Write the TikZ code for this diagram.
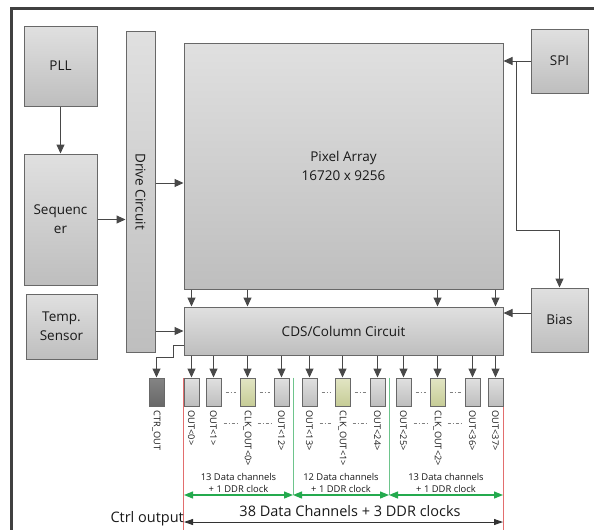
\documentclass[tikz,border=0pt]{standalone}
\usepackage{fontspec}
\setmainfont{Open Sans}
\usetikzlibrary{positioning,arrows.meta,calc}

\definecolor{boxtop}{RGB}{224,224,224}
\definecolor{boxbot}{RGB}{190,190,190}
\definecolor{edge}{RGB}{104,104,104}
\definecolor{clktop}{RGB}{226,229,196}
\definecolor{clkbot}{RGB}{198,204,150}
\definecolor{ctrtop}{RGB}{132,132,132}
\definecolor{ctrbot}{RGB}{104,104,104}
\definecolor{arrgray}{RGB}{72,72,72}
\definecolor{grn}{RGB}{36,170,78}
\definecolor{grnline}{RGB}{110,196,140}
\definecolor{redline}{RGB}{226,110,110}

\begin{document}
\begin{tikzpicture}[
  x=1pt,y=-1pt,
  font=\fontsize{13.5}{19}\selectfont,
  text=black!90,
  blk/.style={rectangle,draw=edge,line width=1pt,top color=boxtop,bottom color=boxbot,
              align=center,inner sep=2pt},
  obox/.style={blk,minimum width=15pt,minimum height=28pt},
  cbox/.style={obox,top color=clktop,bottom color=clkbot},
  dbox/.style={obox,top color=ctrtop,bottom color=ctrbot},
  lbl/.style={font=\fontsize{9.2}{10}\selectfont,rotate=-90,anchor=west,inner sep=0pt},
  grp/.style={font=\fontsize{9.4}{12}\selectfont,align=center,inner sep=1pt},
  arr/.style={-{Triangle[length=9pt,width=8pt]},line width=1pt,draw=arrgray},
  dots/.style={draw=gray,line width=0.7pt,dash pattern=on 3pt off 2pt on 1pt off 2pt},
  garr/.style={{Triangle[length=9pt,width=7pt]}-{Triangle[length=9pt,width=7pt]},
               line width=1.2pt,draw=grn},
  barr/.style={{Triangle[length=9pt,width=6pt]}-{Triangle[length=9pt,width=6pt]},
               line width=0.9pt,draw=black!80},
]
\useasboundingbox (0,0) rectangle (594,530);

% ---------- frame ----------
\draw[line width=3pt,draw=black!75] (594,8) -- (11,8) -- (11,530);

% ---------- main blocks ----------
\node[blk,minimum width=73pt,minimum height=80pt] (pll) at (60.5,66) {PLL};
\node[blk,minimum width=73pt,minimum height=131pt] (seq) at (60.5,219.5) {Sequenc\\er};
\node[blk,minimum width=71pt,minimum height=65pt] (temp) at (61.5,326.5) {Temp.\\Sensor};
\node[blk,minimum width=29pt,minimum height=321pt] (drive) at (140.5,191.5) {\rotatebox{-90}{Drive Circuit}};
\node[blk,minimum width=319pt,minimum height=246pt] (pixel) at (343.5,166) {Pixel Array\\16720 x 9256};
\node[blk,minimum width=319pt,minimum height=48pt] (cds) at (343.5,331) {CDS/Column Circuit};
\node[blk,minimum width=57pt,minimum height=64pt] (spi) at (559.5,61) {SPI};
\node[blk,minimum width=57pt,minimum height=64pt] (bias) at (559.5,320) {Bias};

\draw[arr] (pll) -- (seq);
\draw[arr] (seq.east) -- (seq.east -| drive.west);
\draw[arr] ([yshift=-17pt]pixel.west -| drive.east) -- ([yshift=-17pt]pixel.west);
\draw[arr] (cds.west -| drive.east) -- (cds.west);
\draw[arr] (spi.west) -- (spi.west -| pixel.east);
\coordinate (tap) at (516,61);
\draw[arr] (tap) -- ++(0,169) -| (bias.north);
\draw[arr] ([yshift=7pt]bias.west) -- ([yshift=7pt]bias.west -| cds.east);

% ---------- output pads ----------
\coordinate (bot) at (0,530);
\draw[draw=redline,line width=1pt] (183.5,378) -- (183.5,530);
\draw[draw=redline,line width=1pt] (503.5,378) -- (503.5,530);

\node[dbox] (ctr) at (156.5,392) {};
\node[lbl] at ([yshift=-4pt]ctr.south) {CTR\_OUT};
\foreach \n/\x/\s/\t in {o0/191.5/obox/OUT<0>, o1/213.5/obox/OUT<1>, c0/247.5/cbox/CLK\_OUT<0>,
    o12/281.5/obox/OUT<12>, o13/309.5/obox/OUT<13>, c1/342.5/cbox/CLK\_OUT<1>,
    o24/377.5/obox/OUT<24>, o25/403.5/obox/OUT<25>, c2/437.5/cbox/CLK\_OUT<2>,
    o36/472.5/obox/OUT<36>, o37/495.5/obox/OUT<37>} {
  \node[\s] (\n) at (\x,392) {};
  \node[lbl] at ([yshift=-4pt]\n.south) {\t};
  \draw[arr] (cds.south -| \n) -- (\n);
}

% pixel array -> column circuit
\foreach \n in {o0,c0,c2,o37}
  \draw[arr] (pixel.south -| \n) -- (cds.north -| \n);

% skipped channels
\foreach \a/\b in {o1/c0, c0/o12, o13/c1, c1/o24, o25/c2, c2/o36} {
  \draw[dots] ([xshift=4pt]\a.east) -- ([xshift=-4pt]\b.west);
  \draw[dots] ([xshift=2pt,yshift=-17pt]\a.south east) -- ([xshift=-2pt,yshift=-17pt]\b.south west);
}

% control output
\draw[arr] ([yshift=-14pt]cds.west) -- ++(-10,0) -- ++(0,12) -| (ctr.north);

% ---------- channel groups ----------
\coordinate (g0) at (184,495);
\coordinate (g1) at (293,495);
\coordinate (g2) at (389,495);
\coordinate (g3) at (503,495);
\draw[draw=grnline,line width=1pt] (g1 |- o12.north) -- (g1);
\draw[draw=grnline,line width=1pt] (g2 |- o24.north) -- (g2);
\draw[garr] (g0) -- (g1);
\draw[garr] (g1) -- (g2);
\draw[garr] (g2) -- (g3);
\node[grp,above=1pt of $(g0)!0.5!(g1)$] (t0) {13 Data channels\\+ 1 DDR clock};
\node[grp,above=1pt of $(g1)!0.5!(g2)$] (t1) {12 Data channels\\+ 1 DDR clock};
\node[grp,above=1pt of $(g2)!0.5!(g3)$] (t2) {13 Data channels\\+ 1 DDR clock};

\coordinate (b0) at (184,522);
\coordinate (b1) at (503,522);
\draw[barr] (b0) -- (b1);
\node[font=\fontsize{14.5}{16}\selectfont] (total) at (350,511) {38 Data Channels + 3 DDR clocks};
\node[font=\fontsize{14.5}{16}\selectfont,anchor=east,inner sep=0pt] (ctrl) at ([yshift=3pt]b0) {Ctrl output};
\end{tikzpicture}
\end{document}
